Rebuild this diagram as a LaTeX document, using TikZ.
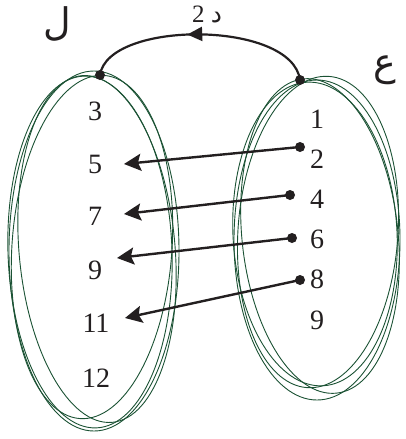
\documentclass[tikz,border=0pt]{standalone}
\usepackage{fontspec}
\setmainfont{Liberation Serif}
\newfontfamily\arabicfont[Script=Arabic]{DejaVu Sans}
\TeXXeTstate=1
\usetikzlibrary{arrows.meta,decorations.markings}
\definecolor{ellgreen}{HTML}{1B5234}
\definecolor{inkblack}{HTML}{231F20}
\begin{document}
\begin{tikzpicture}[x=1pt,y=-1pt,
  setline/.style={draw=ellgreen,line width=0.9pt},
  num/.style={font=\fontsize{28}{30}\selectfont,text=inkblack,inner sep=0pt},
  arlabel/.style={font=\arabicfont\fontsize{38}{40}\selectfont,text=inkblack,inner sep=0pt},
  mapline/.style={draw=inkblack,line width=2.4pt,-{Stealth[length=17pt,width=17pt,inset=3pt]}},
  dotmark/.style={fill=inkblack}]
\useasboundingbox (0,0) rectangle (406,439);
% left set ellipse strokes
\draw[setline] (94,251) ellipse [x radius=85,y radius=180];
\draw[setline,rotate around={-4:(92,247)}] (92,247) ellipse [x radius=80,y radius=172];
\draw[setline,rotate around={5:(97,249)}] (97,249) ellipse [x radius=78,y radius=174];
\draw[setline,rotate around={2:(90,252)}] (90,252) ellipse [x radius=82,y radius=176];
% right set ellipse strokes
\draw[setline] (317,240) ellipse [x radius=83,y radius=160];
\draw[setline,rotate around={-4:(318,232)}] (318,232) ellipse [x radius=80,y radius=156];
\draw[setline,rotate around={3:(315,234)}] (315,234) ellipse [x radius=82,y radius=152];
\draw[setline,rotate around={6:(320,236)}] (320,236) ellipse [x radius=78,y radius=158];
% set labels
\node[arlabel] (setL) at (57,24) {\beginR ل\endR};
\node[arlabel] (setE) at (385,70) {\beginR ع\endR};
\node[font=\fontsize{25}{27}\selectfont,text=inkblack,inner sep=0pt] (fname) at (207,14) {\beginR{\arabicfont د} 2\endR};
% left numbers
\node[num] (l3) at (95,111) {3};
\node[num] (l5) at (95,164) {5};
\node[num] (l7) at (95,216) {7};
\node[num] (l9) at (95,270) {9};
\node[num] (l11) at (96,323) {11};
\node[num] (l12) at (96,378) {12};
% right numbers
\node[num] (r1) at (317,119) {1};
\node[num] (r2) at (317,159) {2};
\node[num] (r4) at (317,199) {4};
\node[num] (r6) at (317,239) {6};
\node[num] (r8) at (317,279) {8};
\node[num] (r9) at (317,320) {9};
% arc between sets
\coordinate (ltop) at (100,75);
\coordinate (rtop) at (300,80);
\draw[draw=inkblack,line width=2.2pt,
  postaction={decorate,decoration={markings,mark=at position 0.56 with {\arrow{Triangle[length=15pt,width=14pt]}}}}]
  (rtop) .. controls (292,20) and (108,20) .. (ltop);
\fill[dotmark] (ltop) circle (5);
\fill[dotmark] (rtop) circle (5);
% mapping arrows
\coordinate (s2) at (300,147);
\coordinate (s4) at (290,195);
\coordinate (s6) at (292,238);
\coordinate (s8) at (300,280);
\coordinate (t5) at (124,164);
\coordinate (t7) at (124,214);
\coordinate (t9) at (117,258);
\coordinate (t11) at (125,318);
\draw[mapline] (s2) -- (t5);
\draw[mapline] (s4) -- (t7);
\draw[mapline] (s6) -- (t9);
\draw[mapline] (s8) -- (t11);
\foreach \p in {s2,s4,s6,s8} \fill[dotmark] (\p) circle (5);
\end{tikzpicture}
\end{document}
